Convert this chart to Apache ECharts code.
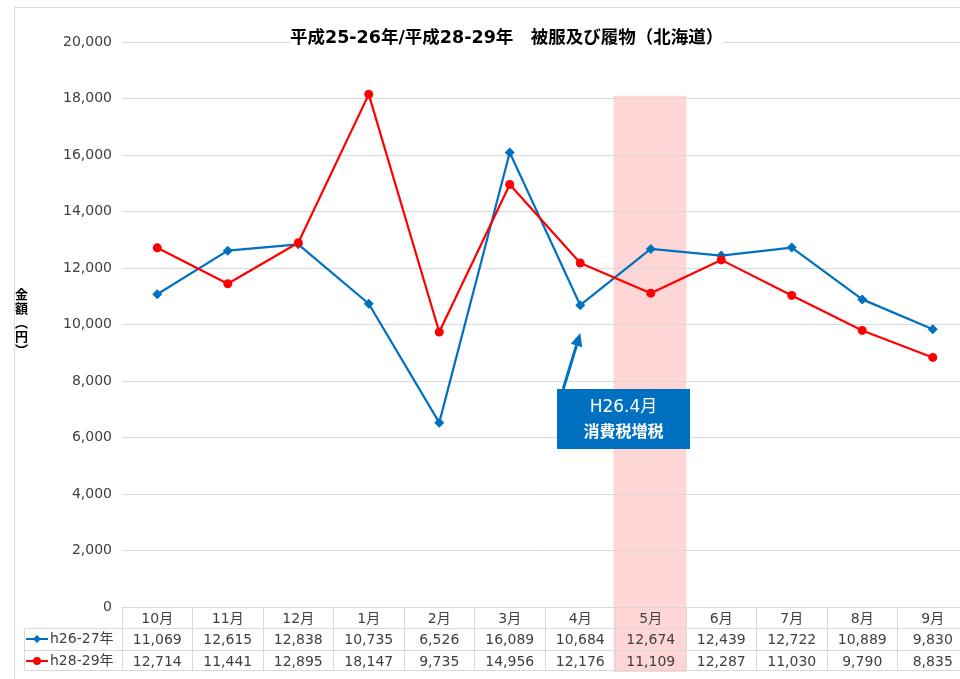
<!DOCTYPE html>
<html>
<head>
<meta charset="utf-8">
<style>
  html, body { margin: 0; padding: 0; background: #fff; }
  #chart { width: 960px; height: 679px; }
</style>
<script src="https://cdn.jsdelivr.net/npm/echarts@6/dist/echarts.min.js"></script>
</head>
<body>
<div id="chart"></div>
<script>
// Monthly spending on clothing and footwear (Hokkaido), two fiscal periods
const months = ['10月', '11月', '12月', '1月', '2月', '3月', '4月', '5月', '6月', '7月', '8月', '9月'];
const seriesNames = ['h26-27年', 'h28-29年'];
const valuesH26 = [11069, 12615, 12838, 10735, 6526, 16089, 10684, 12674, 12439, 12722, 10889, 9830];
const valuesH28 = [12714, 11441, 12895, 18147, 9735, 14956, 12176, 11109, 12287, 11030, 9790, 8835];
const yTicks = { min: 0, max: 20000, interval: 2000 };
const highlightMonth = '5月';
const highlightTop = 18100;
const noteTarget = ['4月', 9700];
const noteLines = ['H26.4月', '消費税増税'];

const FONT = '"DejaVu Sans", "Noto Sans CJK JP", sans-serif';
const GRID_LINE = '#d9d9d9';
const TEXT = '#404040';
const BLUE = '#0070c0';
const RED = '#ff0000';

const fmt = v => v.toLocaleString('en-US');

const chart = echarts.init(document.getElementById('chart'), null, { renderer: 'canvas' });

// Category axes stacked below the plot act as the rows of the data table
function tableRowAxis(offset, labels) {
  return {
    type: 'category',
    data: months,
    position: 'bottom',
    offset: offset,
    axisLine: { show: true, lineStyle: { color: GRID_LINE, width: 1 } },
    axisTick: { show: false },
    axisLabel: labels ? {
      show: true, interval: 0, margin: 5,
      color: TEXT, fontFamily: FONT, fontSize: 14,
      formatter: (v, i) => fmt(labels[i])
    } : { show: false },
    splitLine: { show: false }
  };
}

chart.setOption({
  animation: false,
  backgroundColor: '#fff',
  textStyle: { fontFamily: FONT },
  title: {
    text: '平成25-26年/平成28-29年　被服及び履物（北海道）',
    left: 290,
    top: 30,
    padding: [0, 0],
    backgroundColor: '#fff',
    textStyle: { fontFamily: FONT, fontSize: 17.5, fontWeight: 'bold', color: '#000' }
  },
  // the table's last column runs past the right edge of the canvas
  grid: { left: 122, width: 846, top: 42, bottom: 72, containLabel: false, outerBoundsMode: 'none' },
  legend: {
    data: seriesNames,
    orient: 'vertical',
    left: 25,
    top: 632,
    itemWidth: 22,
    itemHeight: 10,
    itemGap: 8,
    padding: 0,
    textStyle: { fontFamily: FONT, fontSize: 14, color: TEXT, padding: [0, 0, 0, -3] }
  },
  xAxis: [
    {
      type: 'category',
      data: months,
      position: 'bottom',
      boundaryGap: true,
      axisLine: { show: true, lineStyle: { color: GRID_LINE } },
      axisTick: { show: true, interval: 0, alignWithLabel: false, length: 63, lineStyle: { color: GRID_LINE } },
      axisLabel: { interval: 0, margin: 5, color: TEXT, fontFamily: FONT, fontSize: 14 },
      splitLine: { show: false }
    },
    tableRowAxis(21, valuesH26),
    tableRowAxis(43, valuesH28),
    tableRowAxis(63, null)
  ],
  yAxis: {
    type: 'value',
    min: yTicks.min,
    max: yTicks.max,
    interval: yTicks.interval,
    axisLine: { show: false },
    axisTick: { show: false },
    axisLabel: { margin: 10, color: TEXT, fontFamily: FONT, fontSize: 14, formatter: v => fmt(v) },
    splitLine: { lineStyle: { color: GRID_LINE, width: 1 } }
  },
  series: [
    {
      name: seriesNames[0],
      type: 'line',
      data: valuesH26,
      symbol: 'diamond',
      symbolSize: 10,
      color: BLUE,
      lineStyle: { width: 2.2, color: BLUE },
      itemStyle: { color: BLUE },
      z: 3
    },
    {
      name: seriesNames[1],
      type: 'line',
      data: valuesH28,
      symbol: 'circle',
      symbolSize: 9,
      color: RED,
      lineStyle: { width: 2.2, color: RED },
      itemStyle: { color: RED },
      z: 4
    }
  ]
});

// Overlays positioned from the chart's own scales
const bandW = chart.getModel().getComponent('xAxis', 0).axis.getBandWidth();
const bandCenter = chart.convertToPixel({ xAxisIndex: 0 }, highlightMonth);
const bandTop = chart.convertToPixel({ yAxisIndex: 0 }, highlightTop);
const tip = chart.convertToPixel({ xAxisIndex: 0, yAxisIndex: 0 }, noteTarget);

const box = { x: 557, y: 389, w: 133, h: 60 };
const tail = [tip[0] - 17, box.y];
const dx = tip[0] - tail[0], dy = tip[1] - tail[1];
const len = Math.sqrt(dx * dx + dy * dy);
const ux = dx / len, uy = dy / len;
const headL = 13, headW = 6;
const baseX = tip[0] - ux * headL, baseY = tip[1] - uy * headL;

chart.setOption({
  graphic: [
    // outer frame
    { type: 'rect', z: -10, shape: { x: 14.5, y: 7.5, width: 980, height: 700 },
      style: { fill: 'none', stroke: GRID_LINE, lineWidth: 1 } },
    // highlighted month band
    { type: 'rect', z: -5,
      shape: { x: bandCenter - bandW / 2 - 2, y: bandTop, width: bandW + 2.5, height: 672 - bandTop },
      style: { fill: 'rgba(255,0,0,0.16)' } },
    // legend column of the data table
    { type: 'polyline', z: 1, shape: { points: [[122, 628.5], [24.5, 628.5], [24.5, 670.5], [122, 670.5]] },
      style: { fill: 'none', stroke: GRID_LINE, lineWidth: 1 } },
    { type: 'line', z: 1, shape: { x1: 24.5, y1: 650.5, x2: 122, y2: 650.5 },
      style: { stroke: GRID_LINE, lineWidth: 1 } },
    // y-axis name, written vertically
    { type: 'text', z: 10, left: 15, top: 287,
      style: { text: '金\n額\n︵\n円\n︶', fill: '#000', font: 'bold 13px "Noto Sans CJK JP", sans-serif', lineHeight: 14 } },
    // annotation arrow
    { type: 'line', z: 20, shape: { x1: tail[0], y1: tail[1], x2: baseX, y2: baseY },
      style: { stroke: BLUE, lineWidth: 3 } },
    { type: 'polygon', z: 20,
      shape: { points: [[tip[0], tip[1]], [baseX - uy * headW, baseY + ux * headW], [baseX + uy * headW, baseY - ux * headW]] },
      style: { fill: BLUE } },
    // annotation box
    { type: 'rect', z: 20, shape: { x: box.x, y: box.y, width: box.w, height: box.h },
      style: { fill: BLUE } },
    { type: 'text', z: 21, x: box.x + box.w / 2, y: 408,
      style: { text: noteLines[0], fill: '#fff', font: '17px ' + FONT, align: 'center', verticalAlign: 'middle' } },
    { type: 'text', z: 21, x: box.x + box.w / 2, y: 431,
      style: { text: noteLines[1], fill: '#fff', font: 'bold 16px "Noto Sans CJK JP", sans-serif', align: 'center', verticalAlign: 'middle' } }
  ]
});
</script>
</body>
</html>
